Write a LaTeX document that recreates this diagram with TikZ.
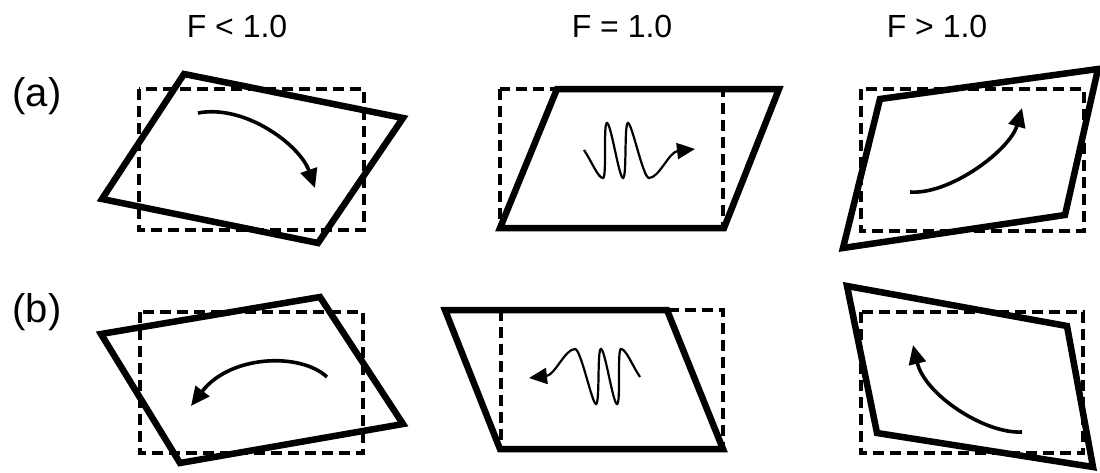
\documentclass[tikz,border=0pt]{standalone}
\usepackage{fontspec}
\setmainfont{Liberation Sans}
\usetikzlibrary{arrows.meta}

\begin{document}
\begin{tikzpicture}[x=1pt, y=-1pt,
    sheared/.style={line width=6.5pt},
    refbox/.style={line width=3.5pt, dash pattern=on 11pt off 6pt},
    swirl/.style={line width=3.6pt, -{Triangle[length=19pt,width=17pt]}},
    heading/.style={anchor=base, font=\fontsize{32}{36}\selectfont},
    rowtag/.style={anchor=base, font=\fontsize{40}{44}\selectfont},
    wiggle/.pic={
        \draw[line width=2.2pt, -{Triangle[length=18pt,width=16pt]}]
            (-55,0) .. controls (-47,12) and (-41,28) .. (-36,28)
            .. controls (-32,28) and (-36,-27) .. (-32,-27)
            .. controls (-28,-27) and (-20,28) .. (-16,28)
            .. controls (-12,28) and (-15,-27) .. (-11,-27)
            .. controls (-7,-27) and (4,28) .. (10,28)
            .. controls (20,28) and (30,2) .. (56,-1);
    }]
    \useasboundingbox (0,0) rectangle (1100,472);

    % column heads and row tags
    \node[heading] (less) at (237,37) {F < 1.0};
    \node[heading] (equal) at (622,37) {F = 1.0};
    \node[heading] (more) at (937,37) {F > 1.0};
    \node[rowtag] (rowa) at (37,106) {(a)};
    \node[rowtag] (rowb) at (37,322) {(b)};

    % reference boxes
    \draw[refbox] (139,89) rectangle (364,230);
    \draw[refbox] (500,89) rectangle (723,228);
    \draw[refbox] (861,89) rectangle (1084,231);
    \draw[refbox] (140,312) rectangle (363,453);
    \draw[refbox] (501,310) rectangle (723,449);
    \draw[refbox] (861,312) rectangle (1083,453);

    % deformed cells, row (a)
    \draw[sheared] (184,74) -- (403,118) -- (318,243) -- (102,199) -- cycle;
    \draw[sheared] (557,89) -- (779,89) -- (724,228) -- (500,228) -- cycle;
    \draw[sheared] (880,99) -- (1098,69) -- (1065,215) -- (843,248) -- cycle;
    % deformed cells, row (b)
    \draw[sheared] (101,334) -- (320,297) -- (403,424) -- (180,463) -- cycle;
    \draw[sheared] (445,310) -- (667,310) -- (723,449) -- (500,449) -- cycle;
    \draw[sheared] (847,286) -- (1067,326) -- (1093,467) -- (877,433) -- cycle;

    % rotation sense
    \draw[swirl] (198,113) .. controls (245,104) and (300,145) .. (315,188);   % clockwise
    \draw[swirl] (910,192) .. controls (950,195) and (1010,150) .. (1022,108); % counter
    \draw[swirl] (327,377) .. controls (300,352) and (230,355) .. (191,406);   % counter
    \draw[swirl] (1022,432) .. controls (985,434) and (925,395) .. (913,345);  % clockwise
    \pic at (639,150) {wiggle};
    \pic[rotate=180] at (585,377) {wiggle};
\end{tikzpicture}
\end{document}
